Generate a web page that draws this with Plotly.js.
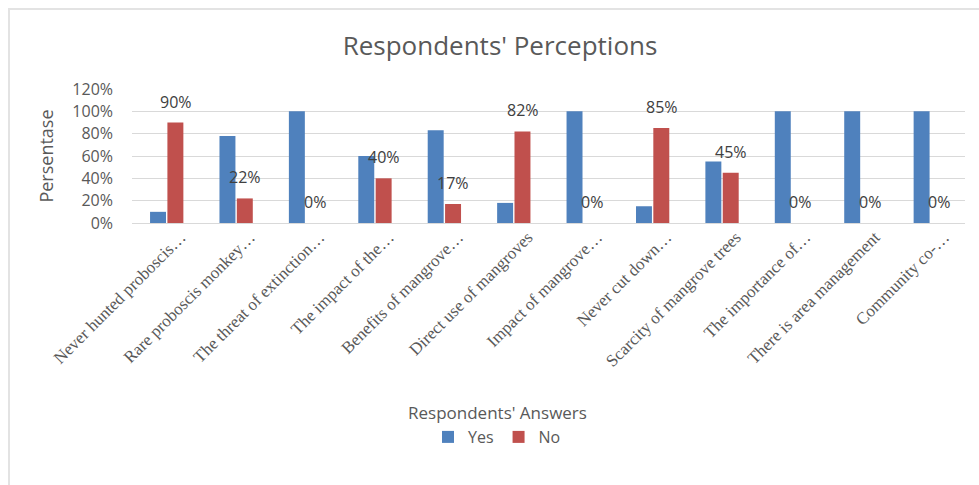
<!DOCTYPE html>
<html>
<head>
<meta charset="utf-8">
<script src="https://cdn.plot.ly/plotly-3.0.1.min.js"></script>
<style>
html,body{margin:0;padding:0;background:#fff;}
#frame{position:absolute;left:8px;top:8px;width:990px;height:500px;border-left:2px solid #e3e3e3;border-top:2px solid #e3e3e3;pointer-events:none;}
#chart{position:absolute;left:0;top:0;width:979px;height:485px;}
</style>
</head>
<body>
<div id="chart"></div>
<div id="frame"></div>
<script>
const categories = [
  "Never hunted proboscis…",
  "Rare proboscis monkey…",
  "The threat of extinction…",
  "The impact of the…",
  "Benefits of mangrove…",
  "Direct use of mangroves",
  "Impact of mangrove…",
  "Never cut down…",
  "Scarcity of mangrove trees",
  "The importance of…",
  "There is area management",
  "Community co-…"
];
const yesValues = [0.10, 0.78, 1.00, 0.60, 0.83, 0.18, 1.00, 0.15, 0.55, 1.00, 1.00, 1.00];
const noValues  = [0.90, 0.22, 0.00, 0.40, 0.17, 0.82, 0.00, 0.85, 0.45, 0.00, 0.00, 0.00];
const yTickVals = [0, 0.2, 0.4, 0.6, 0.8, 1.0, 1.2];
const yTickText = ["0%", "20%", "40%", "60%", "80%", "100%", "120%"];

const gray = "#595959";

const traces = [
  {type: "bar", name: "Yes", x: categories, y: yesValues,
   marker: {color: "#4f81bd"}, hoverinfo: "skip"},
  {type: "bar", name: "No", x: categories, y: noValues,
   marker: {color: "#c0504d"}, hoverinfo: "skip"}
];

const labelAnnotations = categories.map((c, i) => ({
  x: c, y: noValues[i], xref: "x", yref: "y",
  text: Math.round(noValues[i] * 100) + "%",
  showarrow: false, xshift: 9, yshift: 21,
  xanchor: "center", yanchor: "middle",
  font: {family: "Open Sans, sans-serif", size: 16, color: "#404040"}
}));

const layout = {
  width: 979, height: 485,
  margin: {l: 132, r: 14, t: 89, b: 262},
  paper_bgcolor: "#ffffff", plot_bgcolor: "#ffffff",
  title: {text: "Respondents' Perceptions", x: 500/979, xref: "container", xanchor: "center",
          y: 1 - 46/485, yref: "container", yanchor: "middle",
          font: {family: "Open Sans, sans-serif", size: 26, color: gray}},
  barmode: "group", bargap: 0.5, bargroupgap: 0.08,
  xaxis: {type: "category", tickangle: -45, showgrid: false, showline: false, zeroline: false,
          ticks: "", ticklabelshift: 14, ticklabelstandoff: 0,
          tickfont: {family: "Liberation Serif, serif", size: 17, color: gray},
          automargin: false},
  yaxis: {range: [0, 1.2], tickvals: yTickVals, ticktext: yTickText,
          showgrid: true, gridcolor: "#d9d9d9", gridwidth: 1, zeroline: true, zerolinecolor: "#d9d9d9",
          showline: false, ticks: "", ticklen: 0, ticklabelstandoff: 18,
          tickfont: {family: "Open Sans, sans-serif", size: 16, color: gray},
          title: {text: "Persentase", standoff: 14, font: {family: "Open Sans, sans-serif", size: 18, color: gray}},
          automargin: false, fixedrange: true},
  showlegend: true,
  legend: {orientation: "h", x: 497/979, xref: "container", xanchor: "center",
           y: 1 - 437/485, yref: "container", yanchor: "middle",
           font: {family: "Open Sans, sans-serif", size: 16, color: gray},
           itemwidth: 30, traceorder: "normal"},
  annotations: labelAnnotations.concat([
    {text: "Respondents' Answers", xref: "paper", yref: "paper",
     x: (497 - 132) / (965 - 132), y: (223 - 412) / 134, showarrow: false,
     xanchor: "center", yanchor: "middle",
     font: {family: "Open Sans, sans-serif", size: 17, color: gray}}
  ])
};

Plotly.newPlot("chart", traces, layout, {displayModeBar: false, staticPlot: true});
</script>
</body>
</html>
